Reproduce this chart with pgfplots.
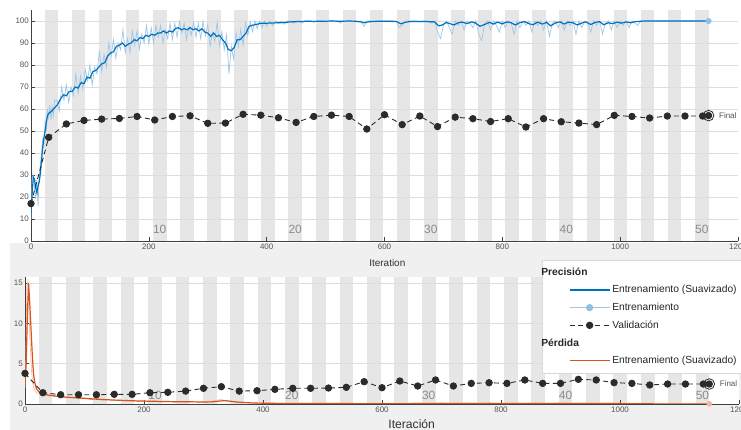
\documentclass[border=0pt]{standalone}
\usepackage{pgfplots}
\usepackage{pgfplotstable}
\pgfplotsset{compat=1.18}
\usepackage{fontspec}
\setmainfont{Liberation Sans}
\definecolor{mblue}{HTML}{0072BD}
\definecolor{lblue}{HTML}{9DC7E8}
\definecolor{mbluemark}{HTML}{8EC1E8}
\definecolor{morange}{HTML}{D95319}
\definecolor{lorange}{HTML}{F2B89C}
\definecolor{stripe}{HTML}{E6E6E6}
\definecolor{panel}{HTML}{F0F0F0}
\definecolor{valc}{HTML}{2B2B2B}
\definecolor{tickc}{HTML}{555555}
\definecolor{epochc}{HTML}{8C8C8C}

\pgfplotstableread{
x y
0 12
2 22
4 29
6 28
8 24
10 22
12 25
14 27
16 31
18 37
20 43
22 47
24 50
26 54
28 57
30 58
35 59
40 60.5
45 62
50 64.5
55 66.5
60 66
65 68
70 68
75 70
80 69.5
85 72
90 71.5
95 74.5
100 74
105 77
110 77.5
115 79
120 80.5
125 81
130 84
135 85.5
140 86
145 88.5
150 89
155 90
160 88.5
165 89.5
170 90
175 91.5
180 91
185 92.5
190 92
195 93.5
200 93
205 94
210 93.5
215 94.5
220 94.5
225 95.5
230 94.5
235 95.5
240 95
245 96.5
250 97
255 96
260 96.5
265 96
270 97
275 96
280 96.5
285 95.5
290 96.5
295 95
300 94.5
305 93
310 94.5
315 93
320 93.5
325 91.5
330 90
335 87
340 86.5
345 88
350 91.5
355 91.5
360 93
365 94.5
370 97.5
375 98
380 98.3
385 98.6
390 99
400 99
410 99.1
420 99.2
430 99.3
440 99.6
450 99.7
460 99.8
470 99.9
480 99.8
490 99.9
500 99.9
510 100
520 99.9
530 99.9
540 100
550 99.9
560 99.6
565 99.2
570 99.5
580 99.8
590 99.9
600 99.9
610 99.9
620 99.8
628 98.7
635 99.4
645 99.8
660 99.8
675 99.7
685 99.6
692 97.8
698 98.2
705 99.3
712 98.7
718 98.2
725 99.2
732 99.5
740 98.8
748 99.6
755 99.0
762 97.6
770 98.4
778 99.4
785 98.6
792 99.5
800 98.7
808 99.6
815 99.2
822 98.2
830 99.3
838 99.7
845 98.8
852 98.3
860 99.5
868 98.6
875 99.4
882 97.8
890 99.1
898 99.6
905 98.6
912 99.5
920 99.2
927 98.2
935 99.1
942 99.6
950 98.4
958 99.4
965 99.7
972 98.3
980 99.2
987 98.8
995 99.5
1002 99.0
1010 99.6
1018 99.2
1025 99.7
1032 99.8
1040 100
1150 100
}\accsmooth

\pgfplotstableread{
x y
0 10
2 29
4 30
6 24
8 19
10 28
12 16
14 30
16 35
18 40
20 47
22 42
24 55
26 50
28 60
30 56
32 62
34 55
36 61
38 57
40 64
44 64
48 59
52 70
56 64
60 71
64 63
68 70
72 66
76 76
80 67
84 75
88 69
92 78
96 73
100 80
104 71
108 79
112 76
116 86
120 77
124 85
128 79
132 90
136 84
140 91.5
144 83
148 90
152 87
156 96
160 85.5
164 92
168 85.6
172 95.4
176 89
180 95.5
184 87.3
188 94
192 90
196 98
200 89.5
204 97
208 90
212 98
216 92.6
220 98
224 90
228 96
232 92
236 99
240 91.5
244 99
248 92.6
252 99.8
256 94.4
260 99
264 91.4
268 97.5
272 93.5
276 99.5
280 92.5
284 99
288 92
292 99.8
296 93.3
300 98.5
304 88.7
308 94.8
312 90.8
316 99.4
320 89
324 95.2
328 86.8
332 93.8
336 76
340 88.5
344 82.7
348 94.8
352 88.4
356 96.2
360 89
364 99.2
368 93.3
372 99.7
376 95.1
380 100
384 96.5
388 100
392 97
396 100
400 97.5
405 100
410 98
415 100
420 99
425 100
430 98.5
435 100
440 100
445 99
450 100
455 100
460 99
465 100
470 100
475 100
480 99.5
485 100
490 100
495 100
500 99.5
505 100
510 100
515 100
520 100
525 99
530 100
535 100
540 100
545 100
550 100
555 99.5
560 100
565 97.5
570 100
575 100
580 100
585 99.5
590 100
595 100
600 100
605 100
610 100
615 99.5
620 100
625 97
630 98
635 100
640 100
645 100
650 100
655 100
660 99.5
665 100
670 100
675 100
680 99
685 100
690 95
695 92
700 98
705 100
710 97
715 94
720 100
725 98
730 100
735 96
740 100
745 99
750 97
755 100
760 94
765 91
770 99
775 100
780 96
785 100
790 98
795 95
800 100
805 97
810 100
815 99
820 94
825 100
830 97
835 100
840 98
845 100
850 95
855 100
860 98
865 100
870 96
875 100
880 93
885 99
890 100
895 97
900 100
905 96
910 100
915 98
920 100
925 94
930 100
935 97
940 100
945 99
950 95
955 100
960 98
965 100
970 94
975 99
980 100
985 96
990 100
995 97
1000 100
1005 98
1010 100
1015 97
1020 100
1025 99
1030 98
1035 100
1040 100
1150 100
}\accraw

\pgfplotstableread{
x y
0 17
30 47.1
60 53.2
90 54.8
120 55.4
150 55.7
180 56.6
210 55
240 56.6
270 56.9
300 53.5
330 53.6
360 57.6
390 57.2
420 56
450 53.9
480 56.6
510 57.2
540 56.6
570 50.9
600 57.4
630 52.9
660 56.8
690 52
720 56.3
750 55.6
780 54.3
810 55.6
840 51.8
870 55.6
900 54.2
930 53.6
960 52.9
990 57.1
1020 56.6
1050 55.9
1080 56.8
1110 56.8
1140 56.8
1150 57
}\accval

\pgfplotstableread{
x y
0 2.4
2 5
4 11
6 15
8 12.5
10 9.5
12 6.5
14 4
16 2.8
18 2.2
20 1.8
25 1.4
30 1.25
40 1.1
50 1.0
60 0.92
70 0.85
80 0.8
90 0.75
100 0.7
120 0.6
140 0.52
160 0.46
180 0.4
200 0.36
220 0.33
240 0.3
260 0.28
280 0.27
300 0.25
315 0.27
325 0.35
335 0.42
345 0.35
355 0.25
370 0.18
385 0.12
400 0.1
420 0.08
450 0.06
500 0.05
550 0.05
600 0.04
650 0.05
700 0.07
750 0.06
800 0.07
850 0.06
900 0.07
950 0.06
1000 0.05
1040 0.02
1150 0.01
}\losssmooth

\pgfplotstableread{
x y
0 2.0
1 3.5
3 14.6
5 15.3
7 11
9 7
11 4
13 2.6
15 2.0
18 1.5
22 1.3
26 1.2
30 1.05
35 1.2
40 0.95
45 1.05
50 0.9
60 0.95
70 0.75
80 0.85
90 0.65
100 0.75
110 0.55
120 0.65
130 0.45
140 0.55
150 0.4
160 0.5
170 0.35
180 0.45
190 0.3
200 0.4
210 0.28
220 0.36
230 0.25
240 0.33
250 0.22
260 0.3
270 0.24
280 0.3
290 0.2
300 0.3
310 0.25
320 0.45
330 0.55
340 0.35
350 0.3
360 0.15
370 0.2
380 0.1
390 0.12
400 0.08
420 0.12
440 0.05
460 0.09
480 0.04
500 0.1
520 0.05
540 0.08
560 0.03
580 0.12
600 0.05
620 0.09
640 0.04
660 0.11
680 0.06
700 0.14
720 0.05
740 0.12
760 0.06
780 0.15
800 0.04
820 0.12
840 0.07
860 0.13
880 0.05
900 0.14
920 0.06
940 0.11
960 0.05
980 0.12
1000 0.04
1020 0.08
1040 0.02
1150 0.01
}\lossraw

\pgfplotstableread{
x y
0 3.8
30 1.4
60 1.15
90 1.15
120 1.15
150 1.2
180 1.2
210 1.4
240 1.45
270 1.6
300 1.95
330 2.15
360 1.6
390 1.65
420 1.82
450 1.95
480 1.95
510 1.98
540 2.07
570 2.77
600 2.02
630 2.85
660 2.23
690 2.98
720 2.23
750 2.56
780 2.64
810 2.56
840 2.98
870 2.56
900 2.56
930 3.06
960 2.98
990 2.65
1020 2.56
1050 2.36
1080 2.48
1110 2.48
1140 2.48
1150 2.48
}\lossval

\newcommand{\stripes}[1]{%
\fill[white] (axis cs:0,0) rectangle (axis cs:1200,#1);
\fill[stripe] (axis cs:23,0) rectangle (axis cs:46,#1);
\fill[stripe] (axis cs:69,0) rectangle (axis cs:92,#1);
\fill[stripe] (axis cs:115,0) rectangle (axis cs:138,#1);
\fill[stripe] (axis cs:161,0) rectangle (axis cs:184,#1);
\fill[stripe] (axis cs:207,0) rectangle (axis cs:230,#1);
\fill[stripe] (axis cs:253,0) rectangle (axis cs:276,#1);
\fill[stripe] (axis cs:299,0) rectangle (axis cs:322,#1);
\fill[stripe] (axis cs:345,0) rectangle (axis cs:368,#1);
\fill[stripe] (axis cs:391,0) rectangle (axis cs:414,#1);
\fill[stripe] (axis cs:437,0) rectangle (axis cs:460,#1);
\fill[stripe] (axis cs:483,0) rectangle (axis cs:506,#1);
\fill[stripe] (axis cs:529,0) rectangle (axis cs:552,#1);
\fill[stripe] (axis cs:575,0) rectangle (axis cs:598,#1);
\fill[stripe] (axis cs:621,0) rectangle (axis cs:644,#1);
\fill[stripe] (axis cs:667,0) rectangle (axis cs:690,#1);
\fill[stripe] (axis cs:713,0) rectangle (axis cs:736,#1);
\fill[stripe] (axis cs:759,0) rectangle (axis cs:782,#1);
\fill[stripe] (axis cs:805,0) rectangle (axis cs:828,#1);
\fill[stripe] (axis cs:851,0) rectangle (axis cs:874,#1);
\fill[stripe] (axis cs:897,0) rectangle (axis cs:920,#1);
\fill[stripe] (axis cs:943,0) rectangle (axis cs:966,#1);
\fill[stripe] (axis cs:989,0) rectangle (axis cs:1012,#1);
\fill[stripe] (axis cs:1035,0) rectangle (axis cs:1058,#1);
\fill[stripe] (axis cs:1081,0) rectangle (axis cs:1104,#1);
\fill[stripe] (axis cs:1127,0) rectangle (axis cs:1150,#1);
}
\newcommand{\epochs}[1]{%
\node[font=\fontsize{12}{13}\selectfont, text=epochc] at (axis cs:218.5,#1) {10};
\node[font=\fontsize{12}{13}\selectfont, text=epochc] at (axis cs:448.5,#1) {20};
\node[font=\fontsize{12}{13}\selectfont, text=epochc] at (axis cs:678.5,#1) {30};
\node[font=\fontsize{12}{13}\selectfont, text=epochc] at (axis cs:908.5,#1) {40};
\node[font=\fontsize{12}{13}\selectfont, text=epochc] at (axis cs:1138.5,#1) {50};
}

\pgfplotsset{
  topgeom/.style={scale only axis, at={(31bp,189bp)}, anchor=south west, width=707bp, height=231bp, xmin=0, xmax=1200, ymin=0, ymax=105},
  botgeom/.style={scale only axis, at={(25bp,26bp)}, anchor=south west, width=714bp, height=127.3bp, xmin=0, xmax=1200, ymin=0, ymax=15.8},
  mystyle/.style={
    axis lines*=left,
    axis line style={draw=black!75, line width=0.5bp},
    tick align=inside, major tick length=4bp,
    tick style={draw=black!75, line width=0.5bp},
    xtick pos=bottom, ytick pos=left,
    xtick={0,200,...,1200},
    ymajorgrids, grid style={draw=black!13, line width=0.5bp},
    ticklabel style={font=\fontsize{8}{9}\selectfont, text=tickc},
    /pgf/number format/assume math mode=true,
    /pgf/number format/1000 sep={},
    scaled ticks=false,
    xticklabel style={inner sep=2.5bp},
    yticklabel style={inner sep=2bp},
  }
}

\begin{document}
\begin{tikzpicture}
\fill[white] (0,0) rectangle (741bp,430bp);
\fill[panel] (10bp,0) rectangle (741bp,187bp);

% background stripes, top
\begin{axis}[topgeom, hide axis]
\stripes{105}
\end{axis}
\begin{axis}[topgeom, mystyle, ytick={0,10,...,100},
  xlabel={Iteration},
  xlabel style={font=\fontsize{10}{12}\selectfont, text=black!80, at={(axis description cs:0.504,0)}, anchor=center, yshift=-21.5bp},
]
\epochs{5.5}
\addplot[lblue, line width=0.7bp] table {\accraw};
\addplot[mblue, line width=1.2bp] table {\accsmooth};
\addplot[valc, line width=0.9bp, dash pattern=on 5bp off 3.5bp, mark=*, mark size=3.2bp, mark options={solid, fill=valc, draw=valc}] table {\accval};
\addplot[only marks, mark=*, mark size=2.8bp, mark options={fill=mbluemark, draw=mbluemark}] coordinates {(1150,100)};
\addplot[only marks, mark=o, mark size=5.3bp, mark options={draw=valc, line width=0.8bp}] coordinates {(1150,57)};
\node[anchor=west, font=\fontsize{8}{9}\selectfont, text=tickc] at (axis cs:1162,57) {Final};
\end{axis}

% background stripes, bottom
\begin{axis}[botgeom, hide axis]
\stripes{15.8}
\end{axis}
\begin{axis}[botgeom, mystyle, ytick={0,5,10,15},
  xlabel={Iteración},
  xlabel style={font=\fontsize{12.2}{14}\selectfont, text=black!80, at={(axis description cs:0.5416,0)}, anchor=center, yshift=-20.3bp},
  legend cell align=left,
  legend image code/.code={\draw[mark repeat=2,mark phase=2,#1] plot coordinates {(0bp,0bp) (20bp,0bp) (40bp,0bp)};},
  legend style={at={(0.7237,1.131)}, anchor=north west, draw=black!15, fill=white,
    inner xsep=27bp, inner ysep=4.5bp, row sep=2.7bp,
    font=\fontsize{10.3}{12}\selectfont, text=black!85,
    nodes={inner sep=2bp, text height=8.5bp, text depth=2.5bp}},
]
\epochs{1.1}
\addplot[lorange, line width=0.6bp, forget plot] table {\lossraw};
\addplot[morange, line width=1.2bp, forget plot] table {\losssmooth};
\addplot[valc, line width=0.9bp, dash pattern=on 5bp off 3.5bp, mark=*, mark size=3.2bp, mark options={solid, fill=valc, draw=valc}, forget plot] table {\lossval};
\addplot[only marks, mark=*, mark size=2.6bp, mark options={fill=lorange, draw=lorange}, forget plot] coordinates {(1150,0.02)};
\addplot[only marks, mark=o, mark size=5.3bp, mark options={draw=valc, line width=0.8bp}, forget plot] coordinates {(1150,2.48)};
\node[anchor=west, font=\fontsize{8}{9}\selectfont, text=tickc] at (axis cs:1162,2.48) {Final};

\addlegendimage{empty legend}
\addlegendentry{\makebox[0pt][l]{\hspace*{-71bp}\textbf{Precisión}}}
\addlegendimage{mblue, line width=1.4bp}
\addlegendentry{Entrenamiento (Suavizado)}
\addlegendimage{lblue, line width=1.1bp, mark=*, mark size=3bp, mark options={fill=mbluemark, draw=mbluemark}}
\addlegendentry{Entrenamiento}
\addlegendimage{valc, line width=0.9bp, dash pattern=on 5bp off 3.5bp, mark=*, mark size=3.2bp, mark options={solid, fill=valc, draw=valc}}
\addlegendentry{Validación}
\addlegendimage{empty legend}
\addlegendentry{\makebox[0pt][l]{\hspace*{-71bp}\textbf{Pérdida}}}
\addlegendimage{morange, line width=1.4bp}
\addlegendentry{Entrenamiento (Suavizado)}
\end{axis}
\pgfresetboundingbox
\path[use as bounding box] (0,0) rectangle (741bp,430bp);
\end{tikzpicture}
\end{document}
